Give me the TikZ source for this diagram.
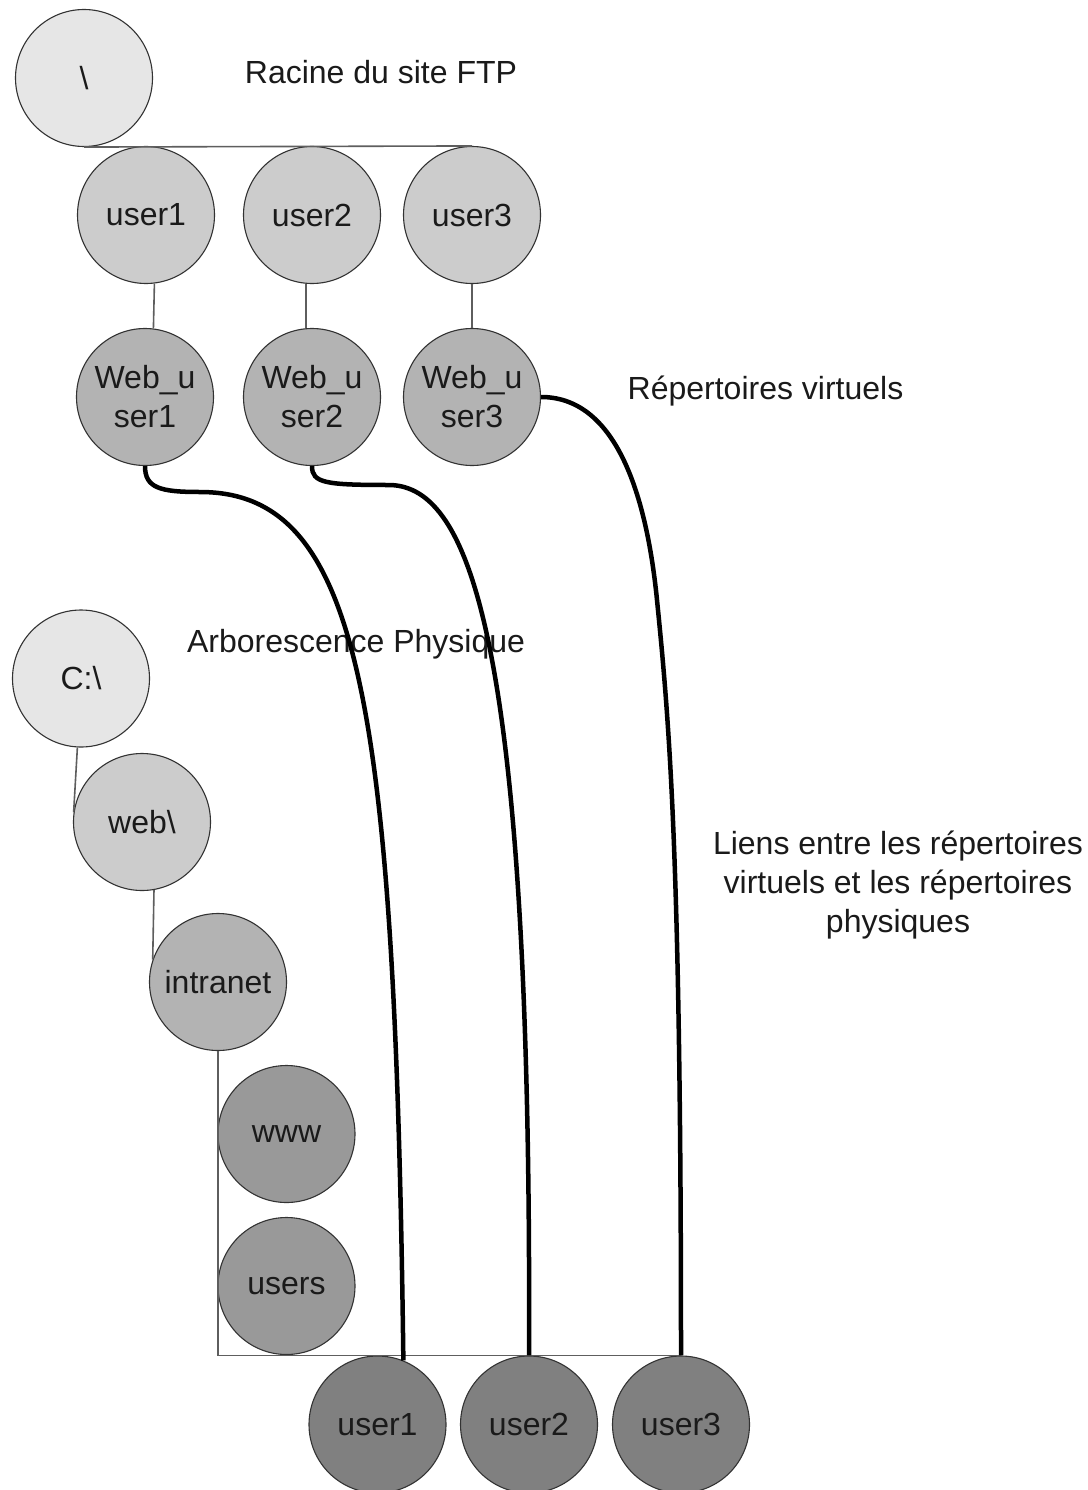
\documentclass[tikz,border=0pt]{standalone}
\usepackage{fontspec}
\setmainfont{Liberation Sans}
\usetikzlibrary{backgrounds}

\definecolor{shadeA}{HTML}{E6E6E6}
\definecolor{shadeB}{HTML}{CCCCCC}
\definecolor{shadeC}{HTML}{B3B3B3}
\definecolor{shadeD}{HTML}{999999}
\definecolor{shadeE}{HTML}{808080}
\definecolor{rim}{HTML}{333333}
\definecolor{branch}{HTML}{5E5E5E}
\definecolor{ink}{HTML}{1A1A1A}

\begin{document}
\begin{tikzpicture}[x=1pt,y=-1pt,
  every node/.style={font=\fontsize{32}{39}\selectfont, text=ink},
  folder/.style={circle, draw=rim, line width=1.1pt, minimum size=137pt,
                 inner sep=0pt, align=center},
  lvlA/.style={folder, fill=shadeA},
  lvlB/.style={folder, fill=shadeB},
  lvlC/.style={folder, fill=shadeC},
  lvlD/.style={folder, fill=shadeD},
  lvlE/.style={folder, fill=shadeE},
  caption/.style={anchor=base},
  tree/.style={draw=branch, line width=1.6pt},
  link/.style={draw=black, line width=4.5pt}
]
\useasboundingbox (0,0) rectangle (1087,1490);
\clip (0,0) rectangle (1087,1490);
\fill[white] (0,0) rectangle (1087,1490);

% ---------- virtual tree (FTP site) ----------
\node[lvlA] (root) at (84,78) {\textbackslash};
\node[lvlB] (u1) at (146,215) {user1};
\node[lvlB] (u2) at (312,215) {user2};
\node[lvlB] (u3) at (472,215) {user3};
\node[lvlC] (w1) at (145,397) {Web\_u\\ser1};
\node[lvlC] (w2) at (312,397) {Web\_u\\ser2};
\node[lvlC] (w3) at (472,397) {Web\_u\\ser3};

\draw[tree] (root.south) -- (u3.north);
\draw[tree] (u1.-83.7) -- (w1.83.7);
\draw[tree] (u2.-95.9) -- (w2.95.9);
\draw[tree] (u3.south) -- (w3.north);

% ---------- physical tree (disk) ----------
\node[lvlA] (cd) at (81,678.5) {C:\textbackslash};
\node[lvlB] (web) at (142,822) {web\textbackslash};
\node[lvlC] (intra) at (218,982) {intranet};
\node[lvlD] (www) at (286.5,1134) {www};
\node[lvlD] (users) at (286.5,1286) {users};
\node[lvlE] (b1) at (377.5,1424.5) {user1};
\node[lvlE] (b2) at (529,1424.5) {user2};
\node[lvlE] (b3) at (681,1424.5) {user3};

\draw[tree] (cd.-93) -- (web.172);
\draw[tree] (web.-80.8) -- (intra.161.6);
\draw[tree] (intra.south) |- (b3.north);

% ---------- captions ----------
\node[caption] (capftp) at (381,84) {Racine du site FTP};
\node[caption] (capvirt) at (765.5,399) {Répertoires virtuels};
\node[caption] (capphys) at (356,652) {Arborescence Physique};
% base anchor of a multi-line node sits on its last line
\node[anchor=base, align=center] (caplinks) at (898,932)
  {Liens entre les répertoires\\virtuels et les répertoires\\physiques};

% ---------- links virtual -> physical ----------
\draw[link] (w1.south) .. controls (145,488) and (160,492) .. (200,492)
            .. controls (360,492) and (395,700) .. (b1.68.1);
\draw[link] (w2.south) .. controls (312,483) and (325,485) .. (390,485)
            .. controls (470,487) and (532,640) .. (b2.north);
\draw[link] (w3.east) .. controls (610,397) and (645,480) .. (657,600)
            .. controls (669,720) and (681,850) .. (b3.north);
\end{tikzpicture}
\end{document}
